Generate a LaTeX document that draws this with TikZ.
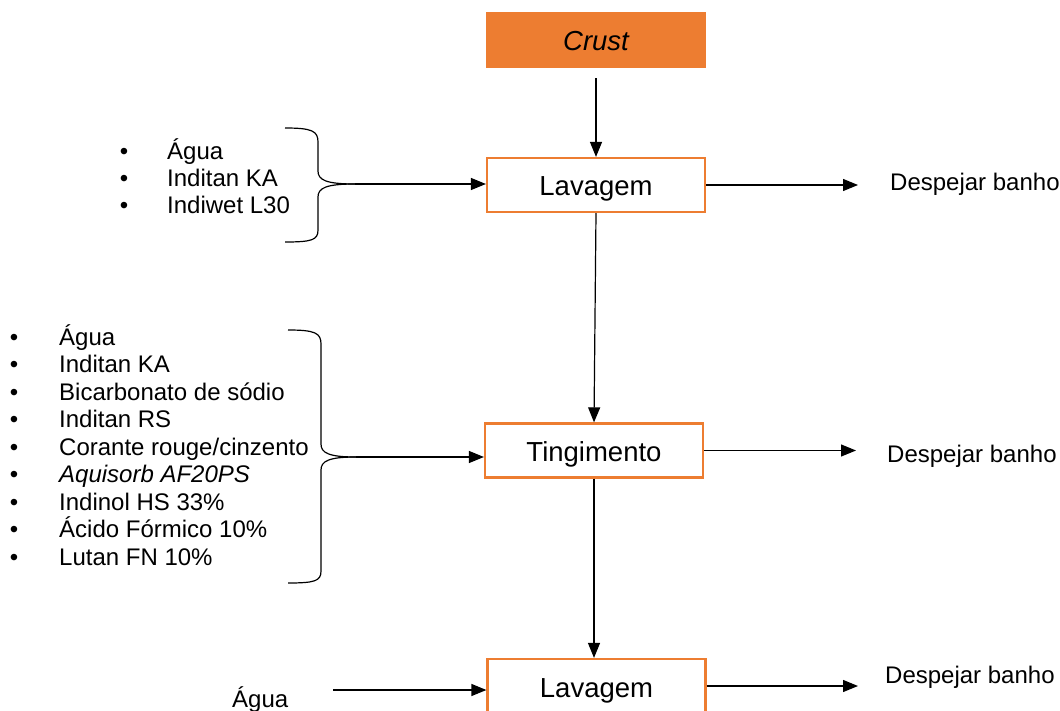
\documentclass[tikz,border=0pt]{standalone}
\usepackage{fontspec}
\setmainfont{Liberation Sans}
\usetikzlibrary{arrows.meta}
\definecolor{accent}{HTML}{ED7D31}

\begin{document}
\begin{tikzpicture}[x=1pt,y=-1pt,
  procbox/.style={draw=accent, line width=2.2pt, fill=white,
    minimum width=218pt, minimum height=54pt, inner sep=0pt,
    text height=22pt, text depth=0pt,
    font=\fontsize{27.5}{30}\selectfont},
  flow/.style={line width=1.2pt, -{Triangle[length=15pt,width=12pt]}},
  bracket/.style={line width=1.2pt},
  itemtext/.style={anchor=base west, inner sep=0pt, font=\fontsize{24}{27}\selectfont},
  bulletdot/.style={anchor=base, inner sep=0pt, font=\fontsize{24}{27}\selectfont},
]
\useasboundingbox (0,0) rectangle (1060,711);
\clip (0,0) rectangle (1060,711);

% process steps
\node[procbox, fill=accent] (crust) at (596,40) {\itshape Crust};
\node[procbox] (lav1) at (596,185) {Lavagem};
\node[procbox] (ting) at (594,450.5) {Tingimento};
\node[procbox] (lav2) at (596.5,686) {Lavagem};

% discharge labels
\node[itemtext] (out1) at (890,191) {Despejar banho};
\node[itemtext] (out2) at (887,462) {Despejar banho};
\node[itemtext] (out3) at (885,683) {Despejar banho};
\coordinate (o1) at (858,185);
\coordinate (o2) at (856,450.5);
\coordinate (o3) at (858,686);

% main flow
\draw[flow, shorten <=10pt] (crust.south) -- (lav1.north);
\draw[flow] (lav1.south) -- (ting.north);
\draw[flow] (ting.south) -- (ting.south |- lav2.north);

\draw[flow] (lav1.east) -- (o1);
\draw[flow] (ting.east) -- (o2);
\draw[flow] (lav2.east) -- (o3);

% inputs of the first washing
\foreach \t [count=\i from 0] in {Água, Inditan KA, Indiwet L30} {
  \node[bulletdot] (da\i) at (124,159.5+27*\i) {•};
  \node[itemtext] (ia\i) at (167,159.5+27*\i) {\t};
}
\draw[bracket] (285,128) .. controls (312,128) and (318,131) .. (318,142)
  -- (318,171) .. controls (318,180) and (326,184) .. (355,184);
\draw[bracket] (355,184) .. controls (326,184) and (318,188) .. (318,197)
  -- (318,230) .. controls (318,240) and (312,242) .. (285,242);
\coordinate (b1) at (355,184);
\draw[flow] (b1) -- (b1 -| lav1.west);

% inputs of the dyeing
\foreach \t [count=\i from 0] in {Água, Inditan KA, Bicarbonato de sódio, Inditan RS,
  Corante rouge/cinzento, \textit{Aquisorb AF20PS}, Indinol HS 33\%,
  Ácido Fórmico 10\%, Lutan FN 10\%} {
  \node[bulletdot] (db\i) at (14,345+27.5*\i) {•};
  \node[itemtext] (ib\i) at (59,345+27.5*\i) {\t};
}
\draw[bracket] (288,330) .. controls (315,330) and (321,333) .. (321,344)
  -- (321,444) .. controls (321,453) and (329,457) .. (356,457);
\draw[bracket] (356,457) .. controls (329,457) and (321,461) .. (321,470)
  -- (321,571) .. controls (321,581) and (315,583) .. (288,583);
\coordinate (b2) at (356,457);
\draw[flow] (b2) -- (b2 -| ting.west);

% input of the last washing
\node[itemtext] (agua) at (232,707) {Água};
\coordinate (w) at (333,690);
\draw[flow] (w) -- (w -| lav2.west);
\end{tikzpicture}
\end{document}
